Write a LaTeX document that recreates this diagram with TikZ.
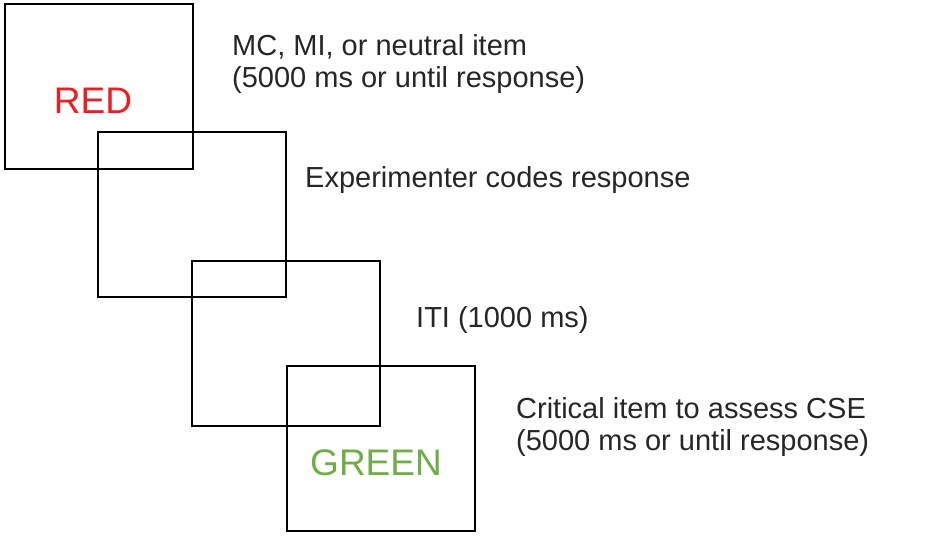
\documentclass[tikz,border=0pt]{standalone}
\usepackage{fontspec}
\setmainfont{Liberation Sans}
\usepackage{tikz}

\definecolor{wordred}{RGB}{232,32,38}
\definecolor{wordgreen}{RGB}{112,173,71}

\tikzstyle{slide} = [draw=black, line width=2pt, rectangle, inner sep=0pt,
    minimum width=188pt, minimum height=165pt, anchor=north west]
\tikzstyle{caption} = [anchor=base west, inner sep=0pt, align=left,
    font=\fontsize{29}{32}\selectfont, text=black!85]
\tikzstyle{word} = [anchor=center, inner sep=0pt, font=\fontsize{37}{40}\selectfont]

\begin{document}
\begin{tikzpicture}[x=1pt, y=-1pt]
\useasboundingbox (0,0) rectangle (950,536);
\node [slide] (item) at (4,3) {};
\node [slide] (coding) at (97,131) {};
\node [slide] (iti) at (191,260) {};
\node [slide] (critical) at (286,365) {};
\node [word, text=wordred] (red) at (93,101) {RED};
\node [word, text=wordgreen] (green) at (376,463) {GREEN};
% base of a two-line caption sits on its last line
\node [caption] (itemtext) at (232,87) {MC, MI, or neutral item\\(5000 ms or until response)};
\node [caption] (codingtext) at (305,187) {Experimenter codes response};
\node [caption] (ititext) at (416,327) {ITI (1000 ms)};
\node [caption] (criticaltext) at (516,450) {Critical item to assess CSE\\(5000 ms or until response)};
\end{tikzpicture}
\end{document}
